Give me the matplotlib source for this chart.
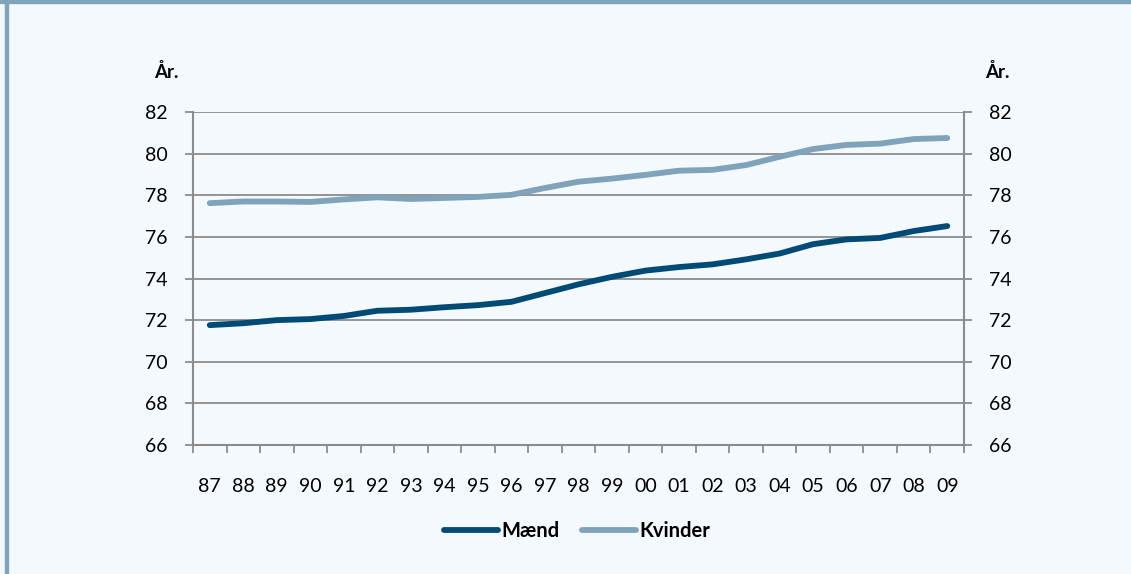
import matplotlib
matplotlib.use("Agg")
import matplotlib.pyplot as plt
from matplotlib.patches import Rectangle

years = ["87", "88", "89", "90", "91", "92", "93", "94", "95", "96", "97", "98",
         "99", "00", "01", "02", "03", "04", "05", "06", "07", "08", "09"]
maend = [71.76, 71.85, 72.0, 72.05, 72.2, 72.45, 72.5, 72.62, 72.72, 72.88, 73.3, 73.72,
         74.08, 74.38, 74.55, 74.68, 74.92, 75.2, 75.65, 75.88, 75.95, 76.28, 76.52]
kvinder = [77.62, 77.7, 77.7, 77.68, 77.8, 77.9, 77.82, 77.87, 77.92, 78.02, 78.35, 78.65,
           78.8, 78.98, 79.18, 79.22, 79.45, 79.85, 80.22, 80.42, 80.48, 80.7, 80.75]
yticks = [66, 68, 70, 72, 74, 76, 78, 80, 82]

bg = "#F4F9FD"
grid_c = "#8C8C8C"
c_m = "#004B76"
c_k = "#7FA3BA"

plt.rcParams['font.family'] = ['Lato', 'DejaVu Sans']

W, H = 1131, 574
fig = plt.figure(figsize=(W / 100, H / 100), dpi=100, facecolor=bg)
# frame borders
fig.patches.append(Rectangle((0, 1 - 3 / H), 1, 3 / H, transform=fig.transFigure,
                             color="#7FA3BA", zorder=0))
fig.patches.append(Rectangle((5 / W, 0), 3 / W, 1, transform=fig.transFigure,
                             color="#7FA3BA", zorder=0))

x0, x1 = 193, 964
y_top, y_bot = 112, 445
ax = fig.add_axes([x0 / W, 1 - y_bot / H, (x1 - x0) / W, (y_bot - y_top) / H])
ax.set_facecolor(bg)

x = list(range(len(years)))
ax.plot(x, maend, color=c_m, lw=4.2, solid_capstyle="round", label="Mænd", zorder=3)
ax.plot(x, kvinder, color=c_k, lw=4.2, solid_capstyle="round", label="Kvinder", zorder=3)

ax.set_xlim(-0.5, len(years) - 0.5)
ax.set_ylim(66, 82)
ax.set_yticks(yticks)
ax.set_yticklabels([str(v) for v in yticks], fontsize=14)
ax.yaxis.grid(True, color=grid_c, lw=1.3)
ax.set_axisbelow(True)

ax.set_xticks([i - 0.5 for i in range(len(years) + 1)], minor=False)
ax.set_xticklabels([])
ax.set_xticks(x, minor=True)
ax.set_xticklabels(years, minor=True, fontsize=14)
ax.tick_params(axis="x", which="major", length=6, color=grid_c, width=1.3, direction="out")
ax.tick_params(axis="x", which="minor", length=0, pad=24)
ax.tick_params(axis="y", length=6, color=grid_c, width=1.3, pad=12,
               right=True, labelright=True)

for s in ["left", "right", "bottom"]:
    ax.spines[s].set_color(grid_c)
    ax.spines[s].set_linewidth(1.5)
ax.spines["top"].set_visible(False)

fig.text(166 / W, 1 - 72 / H, "År.", fontsize=13.5, fontweight="bold", ha="center", va="center")
fig.text(997 / W, 1 - 72 / H, "År.", fontsize=13.5, fontweight="bold", ha="center", va="center")

leg = fig.legend(loc="center", bbox_to_anchor=(0.51, 1 - 531 / H), ncol=2, frameon=False,
                 handlelength=2.7, handletextpad=0.15, columnspacing=1.1,
                 prop={"weight": "bold", "size": 14.5})

fig.savefig("out.png", dpi=100, facecolor=bg)
